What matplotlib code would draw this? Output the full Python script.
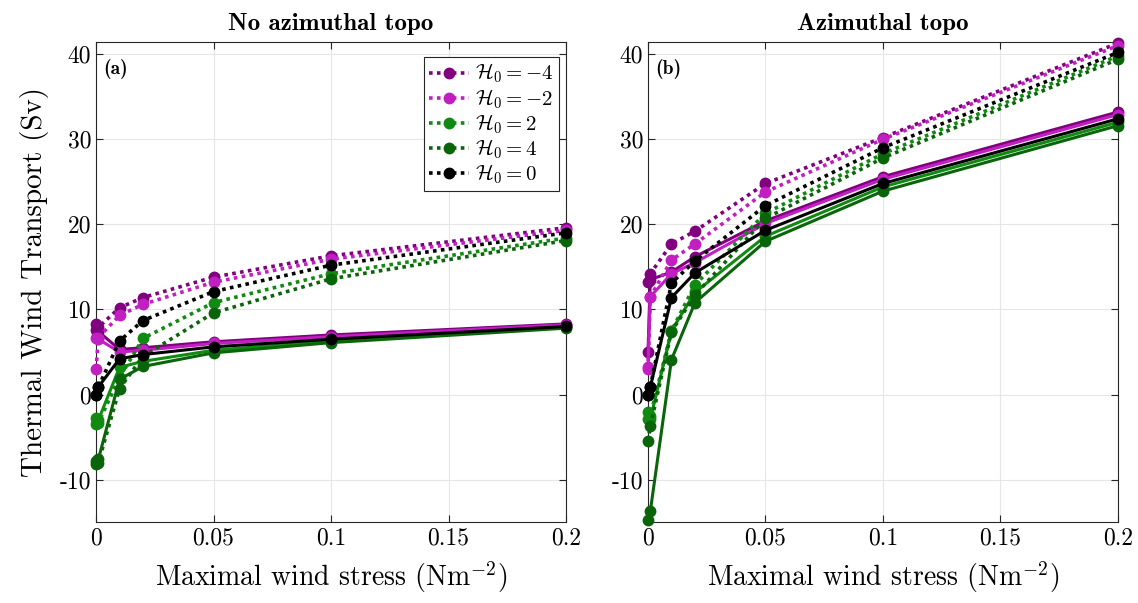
import numpy as np
import matplotlib.pyplot as plt

plt.rcParams.update({
    'font.family': 'serif',
    'font.serif': ['cmr10'],
    'mathtext.fontset': 'cm',
    'axes.unicode_minus': False,
    'font.size': 17,
})

# wind stress values (Nm^-2)
tau = [0, 0.001, 0.01, 0.02, 0.05, 0.1, 0.2]

H0_labels = [r'$\mathcal{H}_0 = -4$', r'$\mathcal{H}_0 = -2$', r'$\mathcal{H}_0 = 2$',
             r'$\mathcal{H}_0 = 4$', r'$\mathcal{H}_0 = 0$']
colors = ['#800080', '#c21fc2', '#108a10', '#0a650a', '#000000']

# (a) no azimuthal topo
a_solid = [
    [7.6, 7.4, 5.3, 5.5, 6.2, 7.0, 8.3],
    [6.7, 6.5, 5.0, 5.2, 6.0, 6.8, 8.2],
    [-2.8, -3.0, 3.2, 3.9, 5.2, 6.3, 7.9],
    [-7.8, -7.6, 1.8, 3.3, 4.9, 6.1, 7.8],
    [0.0, 0.9, 4.2, 4.7, 5.6, 6.5, 8.0],
]
a_dotted = [
    [8.3, 7.9, 10.2, 11.4, 13.8, 16.3, 19.6],
    [3.0, 6.7, 9.3, 10.6, 13.2, 15.9, 19.3],
    [-3.5, -3.3, 2.0, 6.6, 10.8, 14.2, 18.4],
    [-8.2, -8.0, 0.7, 4.5, 9.6, 13.6, 18.1],
    [0.0, 0.9, 6.3, 8.7, 12.1, 15.2, 19.0],
]

# (b) azimuthal topo
b_solid = [
    [5.0, 13.5, 14.4, 16.2, 20.4, 25.6, 33.2],
    [3.2, 11.5, 14.2, 15.5, 20.1, 25.3, 32.9],
    [-2.0, -2.9, 7.5, 12.0, 18.6, 24.4, 32.0],
    [-14.7, -13.7, 4.1, 10.8, 18.0, 23.9, 31.6],
    [0.0, 0.9, 11.4, 14.3, 19.3, 24.8, 32.4],
]
b_dotted = [
    [13.2, 14.2, 17.7, 19.2, 24.8, 30.2, 41.3],
    [3.0, 11.5, 15.8, 17.7, 23.8, 30.0, 41.0],
    [-2.9, -2.5, 7.5, 12.9, 21.3, 28.3, 39.8],
    [-5.5, -3.7, 7.4, 11.7, 20.7, 27.8, 39.4],
    [0.0, 0.9, 13.1, 15.7, 22.2, 29.0, 40.2],
]

fig = plt.figure(figsize=(11.38, 6.03), dpi=100)
axA = fig.add_axes([0.0844, 0.134, 0.413, 0.796])
axB = fig.add_axes([0.5694, 0.134, 0.413, 0.796])

panels = [(axA, a_solid, a_dotted, 'No azimuthal topo', '(a)'),
          (axB, b_solid, b_dotted, 'Azimuthal topo', '(b)')]

for ax, solid, dotted, title, tag in panels:
    for i in range(5):
        ax.plot(tau, solid[i], '-', color=colors[i], lw=2.2, marker='o', ms=7.5,
                clip_on=False, zorder=3)
        ax.plot(tau, dotted[i], color=colors[i], lw=2.6, ls=(0, (1, 1.2)),
                marker='o', ms=7.5, clip_on=False, zorder=3, label=H0_labels[i])
    ax.set_xlim(0, 0.2)
    ax.set_ylim(-15, 41.4)
    ax.set_xticks([0, 0.05, 0.1, 0.15, 0.2])
    ax.set_xticklabels(['0', '0.05', '0.1', '0.15', '0.2'])
    ax.set_yticks([-10, 0, 10, 20, 30, 40])
    ax.set_yticklabels(['-10', '0', '10', '20', '30', '40'])
    ax.tick_params(direction='in', top=True, right=True, length=5,
                   color='#262626', labelsize=17)
    ax.grid(True, color='#e6e6e6', lw=0.8)
    ax.set_axisbelow(True)
    for s in ax.spines.values():
        s.set_color('#262626')
        s.set_linewidth(0.8)
    ax.set_title(title, fontfamily='cmb10', fontsize=18, pad=9)
    ax.text(0.016, 0.965, tag, transform=ax.transAxes, fontfamily='cmb10',
            fontsize=14, va='top', ha='left')
    ax.set_xlabel(r'Maximal wind stress (Nm$^{-2}$)', fontsize=20, labelpad=7)

axA.set_ylabel('Thermal Wind Transport (Sv)', fontsize=21, labelpad=8)

leg = axA.legend(loc='upper right', fontsize=15, fancybox=False, framealpha=1,
                 edgecolor='#262626', handlelength=1.9, handletextpad=0.3,
                 borderpad=0.25, labelspacing=0.08, borderaxespad=0,
                 bbox_to_anchor=(0.985, 0.97))
leg.get_frame().set_linewidth(0.8)

plt.savefig('out.png', dpi=100)
plt.close()
